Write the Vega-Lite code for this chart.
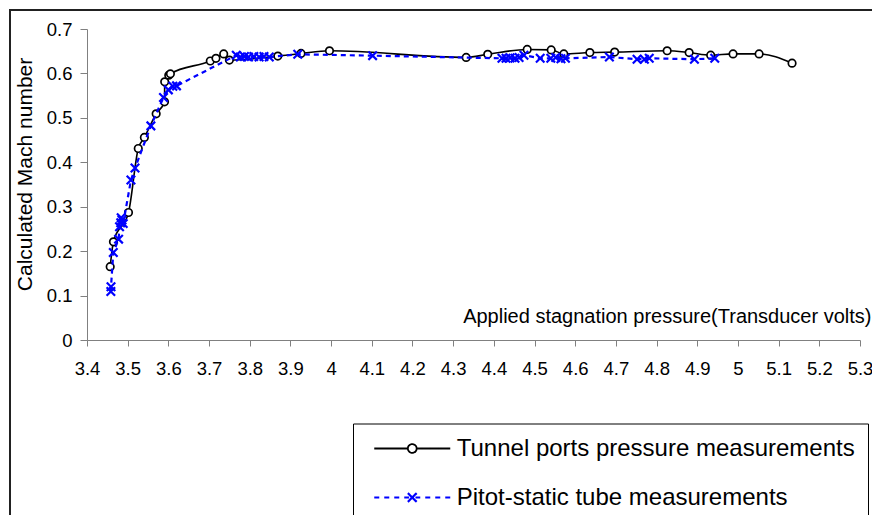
{
  "$schema": "https://vega.github.io/schema/vega-lite/v6.json",
  "width": 773,
  "height": 311,
  "autosize": {"type": "none"},
  "padding": {"left": 87, "top": 29, "right": 12, "bottom": 175},
  "background": "white",
  "config": {
    "view": {"stroke": null},
    "font": "Liberation Sans",
    "axis": {
      "grid": false,
      "domainColor": "#808080",
      "tickColor": "#808080",
      "domainWidth": 1,
      "tickWidth": 1,
      "labelColor": "black",
      "labelFont": "Liberation Sans",
      "labelFontSize": 18.5,
      "titleFont": "Liberation Sans",
      "titleFontWeight": "normal",
      "titleColor": "black"
    }
  },
  "data": {
    "values": [
      {"series": "Tunnel ports pressure measurements", "v": 3.457, "m": 0.165},
      {"series": "Tunnel ports pressure measurements", "v": 3.465, "m": 0.221},
      {"series": "Tunnel ports pressure measurements", "v": 3.502, "m": 0.287},
      {"series": "Tunnel ports pressure measurements", "v": 3.526, "m": 0.431},
      {"series": "Tunnel ports pressure measurements", "v": 3.541, "m": 0.456},
      {"series": "Tunnel ports pressure measurements", "v": 3.570, "m": 0.509},
      {"series": "Tunnel ports pressure measurements", "v": 3.5905, "m": 0.536},
      {"series": "Tunnel ports pressure measurements", "v": 3.591, "m": 0.581},
      {"series": "Tunnel ports pressure measurements", "v": 3.601, "m": 0.596},
      {"series": "Tunnel ports pressure measurements", "v": 3.605, "m": 0.599},
      {"series": "Tunnel ports pressure measurements", "v": 3.703, "m": 0.628},
      {"series": "Tunnel ports pressure measurements", "v": 3.717, "m": 0.634},
      {"series": "Tunnel ports pressure measurements", "v": 3.736, "m": 0.644},
      {"series": "Tunnel ports pressure measurements", "v": 3.750, "m": 0.630},
      {"series": "Tunnel ports pressure measurements", "v": 3.869, "m": 0.639},
      {"series": "Tunnel ports pressure measurements", "v": 3.926, "m": 0.645},
      {"series": "Tunnel ports pressure measurements", "v": 3.996, "m": 0.651},
      {"series": "Tunnel ports pressure measurements", "v": 4.332, "m": 0.636},
      {"series": "Tunnel ports pressure measurements", "v": 4.385, "m": 0.643},
      {"series": "Tunnel ports pressure measurements", "v": 4.482, "m": 0.654},
      {"series": "Tunnel ports pressure measurements", "v": 4.541, "m": 0.653},
      {"series": "Tunnel ports pressure measurements", "v": 4.572, "m": 0.644},
      {"series": "Tunnel ports pressure measurements", "v": 4.636, "m": 0.647},
      {"series": "Tunnel ports pressure measurements", "v": 4.697, "m": 0.648},
      {"series": "Tunnel ports pressure measurements", "v": 4.826, "m": 0.651},
      {"series": "Tunnel ports pressure measurements", "v": 4.880, "m": 0.647},
      {"series": "Tunnel ports pressure measurements", "v": 4.933, "m": 0.641},
      {"series": "Tunnel ports pressure measurements", "v": 4.988, "m": 0.644},
      {"series": "Tunnel ports pressure measurements", "v": 5.052, "m": 0.644},
      {"series": "Tunnel ports pressure measurements", "v": 5.133, "m": 0.623},
      {"series": "Pitot-static tube measurements", "v": 3.4586, "m": 0.109},
      {"series": "Pitot-static tube measurements", "v": 3.459, "m": 0.120},
      {"series": "Pitot-static tube measurements", "v": 3.4647, "m": 0.197},
      {"series": "Pitot-static tube measurements", "v": 3.4777, "m": 0.227},
      {"series": "Pitot-static tube measurements", "v": 3.480, "m": 0.255},
      {"series": "Pitot-static tube measurements", "v": 3.483, "m": 0.264},
      {"series": "Pitot-static tube measurements", "v": 3.484, "m": 0.275},
      {"series": "Pitot-static tube measurements", "v": 3.486, "m": 0.270},
      {"series": "Pitot-static tube measurements", "v": 3.489, "m": 0.262},
      {"series": "Pitot-static tube measurements", "v": 3.508, "m": 0.360},
      {"series": "Pitot-static tube measurements", "v": 3.518, "m": 0.387},
      {"series": "Pitot-static tube measurements", "v": 3.557, "m": 0.482},
      {"series": "Pitot-static tube measurements", "v": 3.588, "m": 0.546},
      {"series": "Pitot-static tube measurements", "v": 3.600, "m": 0.563},
      {"series": "Pitot-static tube measurements", "v": 3.611, "m": 0.571},
      {"series": "Pitot-static tube measurements", "v": 3.620, "m": 0.572},
      {"series": "Pitot-static tube measurements", "v": 3.767, "m": 0.641},
      {"series": "Pitot-static tube measurements", "v": 3.777, "m": 0.637},
      {"series": "Pitot-static tube measurements", "v": 3.787, "m": 0.638},
      {"series": "Pitot-static tube measurements", "v": 3.797, "m": 0.637},
      {"series": "Pitot-static tube measurements", "v": 3.810, "m": 0.638},
      {"series": "Pitot-static tube measurements", "v": 3.823, "m": 0.637},
      {"series": "Pitot-static tube measurements", "v": 3.835, "m": 0.638},
      {"series": "Pitot-static tube measurements", "v": 3.848, "m": 0.637},
      {"series": "Pitot-static tube measurements", "v": 3.918, "m": 0.643},
      {"series": "Pitot-static tube measurements", "v": 4.102, "m": 0.640},
      {"series": "Pitot-static tube measurements", "v": 4.420, "m": 0.634},
      {"series": "Pitot-static tube measurements", "v": 4.430, "m": 0.634},
      {"series": "Pitot-static tube measurements", "v": 4.440, "m": 0.635},
      {"series": "Pitot-static tube measurements", "v": 4.452, "m": 0.634},
      {"series": "Pitot-static tube measurements", "v": 4.462, "m": 0.636},
      {"series": "Pitot-static tube measurements", "v": 4.474, "m": 0.641},
      {"series": "Pitot-static tube measurements", "v": 4.514, "m": 0.634},
      {"series": "Pitot-static tube measurements", "v": 4.540, "m": 0.634},
      {"series": "Pitot-static tube measurements", "v": 4.552, "m": 0.636},
      {"series": "Pitot-static tube measurements", "v": 4.565, "m": 0.633},
      {"series": "Pitot-static tube measurements", "v": 4.576, "m": 0.634},
      {"series": "Pitot-static tube measurements", "v": 4.684, "m": 0.637},
      {"series": "Pitot-static tube measurements", "v": 4.752, "m": 0.632},
      {"series": "Pitot-static tube measurements", "v": 4.770, "m": 0.632},
      {"series": "Pitot-static tube measurements", "v": 4.782, "m": 0.634},
      {"series": "Pitot-static tube measurements", "v": 4.893, "m": 0.632},
      {"series": "Pitot-static tube measurements", "v": 4.943, "m": 0.634}
    ]
  },
  "layer": [
    {
      "mark": {"type": "rect", "fill": null, "stroke": "#222222", "strokeWidth": 1.5, "clip": false},
      "encoding": {
        "x": {"datum": 3.2107, "type": "quantitative", "scale": {"domain": [3.4, 5.3], "nice": false, "zero": false}},
        "x2": {"datum": 6},
        "y": {"datum": 0.7428, "type": "quantitative", "scale": {"domain": [0, 0.7], "nice": false, "zero": false}},
        "y2": {"datum": -1}
      }
    },
    {
      "transform": [{"filter": "datum.series === 'Tunnel ports pressure measurements'"}],
      "mark": {"type": "line", "stroke": "black", "strokeWidth": 1.6, "interpolate": "monotone"},
      "encoding": {
        "x": {"field": "v", "type": "quantitative"},
        "y": {"field": "m", "type": "quantitative"},
        "color": {
          "field": "series", "type": "nominal",
          "scale": {"domain": ["Tunnel ports pressure measurements", "Pitot-static tube measurements"], "range": ["black", "#0000ff"]},
          "legend": {
            "title": null,
            "orient": "none",
            "legendX": 266,
            "legendY": 394.5,
            "strokeColor": "black",
            "fillColor": "white",
            "padding": 13,
            "labelFont": "Liberation Sans",
            "labelFontSize": 24,
            "labelColor": "black",
            "labelLimit": 700,
            "symbolSize": 64,
            "symbolStrokeWidth": 2,
            "symbolOffset": 34.25,
            "labelOffset": 32.5,
            "rowPadding": 25,
            "encode": {
              "symbols": {
                "update": {
                  "shape": {"signal": "datum.value === 'Tunnel ports pressure measurements' ? 'M-9.5,0H-1.1M1.1,0H9.5M-1.1,0A1.1,1.1,0,1,1,1.1,0A1.1,1.1,0,1,1,-1.1,0' : 'M-9.5,0H-8.25M-7,0H-5.75M-4.5,0H-3.25M-2,0H-0.8M0.8,0H2M3.25,0H4.5M5.75,0H7M8.25,0H9.5M-1.1,-1.1L1.1,1.1M-1.1,1.1L1.1,-1.1'"},
                  "stroke": {"signal": "datum.value === 'Tunnel ports pressure measurements' ? 'black' : '#0000ff'"},
                  "strokeWidth": {"signal": "datum.value === 'Tunnel ports pressure measurements' ? 1.8 : 2.2"},
                  "fill": {"value": "white"},
                  "strokeDash": {"value": [1, 0]},
                  "opacity": {"value": 1}
                }
              }
            }
          }
        }
      }
    },
    {
      "transform": [{"filter": "datum.series === 'Tunnel ports pressure measurements'"}],
      "mark": {"type": "point", "shape": "circle", "size": 56, "fill": "white", "stroke": "black", "strokeWidth": 1.7, "opacity": 1},
      "encoding": {
        "x": {"field": "v", "type": "quantitative"},
        "y": {"field": "m", "type": "quantitative"}
      }
    },
    {
      "transform": [{"filter": "datum.series === 'Pitot-static tube measurements'"}],
      "mark": {"type": "line", "stroke": "#0000ff", "strokeWidth": 2.2, "strokeDash": [5, 4]},
      "encoding": {
        "x": {"field": "v", "type": "quantitative"},
        "y": {"field": "m", "type": "quantitative"},
        "color": {"field": "series", "type": "nominal"}
      }
    },
    {
      "transform": [{"filter": "datum.series === 'Pitot-static tube measurements'"}],
      "mark": {"type": "point", "shape": "M-1,-1L1,1M-1,1L1,-1", "size": 72, "filled": false, "stroke": "#0000ff", "strokeWidth": 2.2, "opacity": 1},
      "encoding": {
        "x": {
          "field": "v", "type": "quantitative",
          "axis": {
            "values": [3.4, 3.5, 3.6, 3.7, 3.8, 3.9, 4, 4.1, 4.2, 4.3, 4.4, 4.5, 4.6, 4.7, 4.8, 4.9, 5, 5.1, 5.2, 5.3],
            "format": "~g",
            "tickSize": 6,
            "labelPadding": 13,
            "labelFlush": false,
            "labelOverlap": false,
            "title": "Applied stagnation pressure(Transducer volts)",
            "titleFontSize": 20,
            "titleAlign": "right",
            "titleAnchor": "end",
            "titleBaseline": "alphabetic",
            "titleX": 784,
            "titleY": -18
          }
        },
        "y": {
          "field": "m", "type": "quantitative",
          "axis": {
            "values": [0, 0.1, 0.2, 0.3, 0.4, 0.5, 0.6, 0.7],
            "format": "~g",
            "tickSize": 7,
            "labelPadding": 8,
            "labelFlush": false,
            "labelOverlap": false,
            "title": "Calculated Mach number",
            "titleFontSize": 21,
            "titleAngle": 270,
            "titleAlign": "center",
            "titleBaseline": "middle",
            "titleX": -62,
            "titleY": 145
          }
        }
      }
    }
  ]
}
